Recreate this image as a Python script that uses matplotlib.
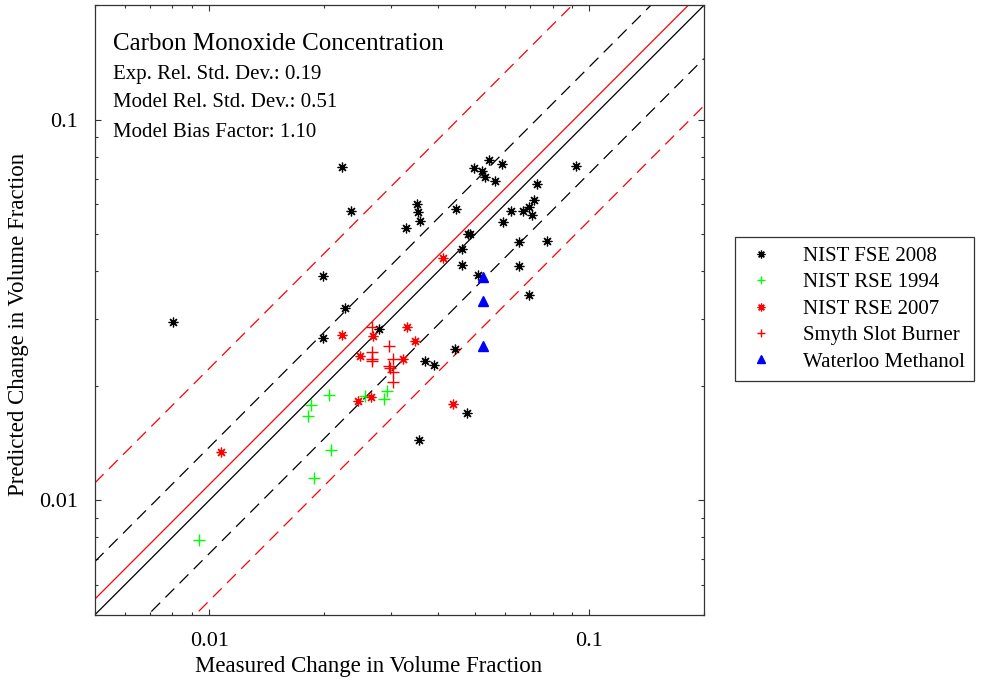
"""
Carbon monoxide concentration: predicted vs measured scatter
"""
import numpy as np
import matplotlib.pyplot as plt
from matplotlib.ticker import FixedLocator, FixedFormatter, NullFormatter, LogLocator

plt.rcParams["font.family"] = ["Liberation Serif", "DejaVu Serif"]

# Statistics shown in the corner
exp_sigma = 0.19
model_sigma = 0.51
bias = 1.10

# NIST FSE 2008 (black asterisks)
fse08_x = [0.00804, 0.02234, 0.02355, 0.01995, 0.0227, 0.01995, 0.0280, 0.03285,
           0.0352, 0.0355, 0.0359, 0.0445, 0.0498, 0.0521, 0.0533, 0.0543, 0.0589,
           0.0565, 0.0920, 0.0730, 0.0716, 0.0695, 0.0671, 0.0623, 0.0708, 0.0594,
           0.0480, 0.0484, 0.0463, 0.0462, 0.0509, 0.0652, 0.0772, 0.0653, 0.0692,
           0.0370, 0.0391, 0.0442, 0.0478, 0.0357]
fse08_y = [0.0294, 0.0753, 0.0577, 0.0389, 0.0320, 0.0268, 0.0282, 0.0519,
           0.0601, 0.0574, 0.0543, 0.0582, 0.0746, 0.0736, 0.0709, 0.0785, 0.0766,
           0.0691, 0.0758, 0.0680, 0.0617, 0.0590, 0.0576, 0.0577, 0.0562, 0.0539,
           0.0502, 0.0500, 0.0457, 0.0416, 0.0392, 0.0478, 0.0480, 0.0414, 0.0346,
           0.0232, 0.0227, 0.0250, 0.0170, 0.0144]

# NIST RSE 1994 (green plus)
rse94_x = [0.0207, 0.01848, 0.01814, 0.0257, 0.0294, 0.0288, 0.02085, 0.01882, 0.0094]
rse94_y = [0.0189, 0.0178, 0.0167, 0.0188, 0.0194, 0.0185, 0.01355, 0.01147, 0.00789]

# NIST RSE 2007 (red asterisks)
rse07_x = [0.0223, 0.0331, 0.0347, 0.0270, 0.0249, 0.0324, 0.0247, 0.0266, 0.0437,
           0.01075, 0.0413]
rse07_y = [0.0272, 0.0286, 0.0263, 0.0271, 0.0240, 0.0236, 0.0183, 0.0187, 0.0179,
           0.0134, 0.0435]

# Smyth slot burner (red plus)
smyth_x = [0.0268, 0.0268, 0.0268, 0.0268, 0.0298, 0.0305, 0.0297, 0.0299, 0.0305, 0.0305]
smyth_y = [0.0285, 0.0245, 0.0235, 0.0232, 0.0255, 0.0236, 0.0226, 0.0223, 0.0217, 0.0205]

# Waterloo methanol (blue triangles)
waterloo_x = [0.0524, 0.0524, 0.0524]
waterloo_y = [0.0386, 0.0334, 0.0255]

lims = [0.005, 0.2]

fig = plt.figure(figsize=(9.92, 6.81), dpi=100)
ax = fig.add_axes([0.0955, 0.097, 0.614, 0.895])

xx = np.array(lims)
ax.plot(xx, xx, color="black", lw=0.9)
ax.plot(xx, xx * (1 + 2 * exp_sigma), color="black", lw=0.9, dashes=(10, 6))
ax.plot(xx, xx / (1 + 2 * exp_sigma), color="black", lw=0.9, dashes=(10, 6))
ax.plot(xx, xx * bias, color="red", lw=0.9)
ax.plot(xx, xx * bias * (1 + 2 * model_sigma), color="red", lw=0.9, dashes=(10, 6))
ax.plot(xx, xx * bias / (1 + 2 * model_sigma), color="red", lw=0.9, dashes=(10, 6))

ast = (8, 2, 0)
ax.plot(fse08_x, fse08_y, ls="none", marker=ast, ms=7, mew=0.9, color="black",
        label="NIST FSE 2008")
ax.plot(rse94_x, rse94_y, ls="none", marker="+", ms=8, mew=1.0, color="#00ff00",
        label="NIST RSE 1994")
ax.plot(rse07_x, rse07_y, ls="none", marker=ast, ms=7, mew=0.9, color="red",
        label="NIST RSE 2007")
ax.plot(smyth_x, smyth_y, ls="none", marker="+", ms=8, mew=1.0, color="red",
        label="Smyth Slot Burner")
ax.plot(waterloo_x, waterloo_y, ls="none", marker="^", ms=7, color="blue",
        label="Waterloo Methanol")

ax.set_xscale("log")
ax.set_yscale("log")
ax.set_xlim(lims)
ax.set_ylim(lims)

for axis in (ax.xaxis, ax.yaxis):
    axis.set_major_locator(FixedLocator([0.01, 0.1]))
    axis.set_major_formatter(FixedFormatter(["0.01", "0.1"]))
    axis.set_minor_locator(LogLocator(base=10, subs=np.arange(2, 10)))
    axis.set_minor_formatter(NullFormatter())
ax.tick_params(which="both", direction="in", top=True, right=True, labelsize=16,
               color="#333333")
ax.tick_params(which="major", length=4.5, width=0.8, pad=12)
ax.tick_params(which="minor", length=2.5, width=0.8)
for s in ax.spines.values():
    s.set_linewidth(0.9)
    s.set_color("#333333")

fig.text(0.372, 0.021, "Measured Change in Volume Fraction", fontsize=16.5,
         ha="center", va="center")
fig.text(0.019, 0.523, "Predicted Change in Volume Fraction", fontsize=16.5,
         ha="center", va="center", rotation=90)

ax.text(0.03, 0.937, "Carbon Monoxide Concentration", transform=ax.transAxes,
        fontsize=18, va="center")
ax.text(0.03, 0.8875, "Exp. Rel. Std. Dev.: %.2f" % exp_sigma, transform=ax.transAxes,
        fontsize=15, va="center")
ax.text(0.03, 0.840, "Model Rel. Std. Dev.: %.2f" % model_sigma, transform=ax.transAxes,
        fontsize=15, va="center")
ax.text(0.03, 0.791, "Model Bias Factor: %.2f" % bias, transform=ax.transAxes,
        fontsize=15, va="center")

leg = fig.legend(handles=ax.get_lines()[6:], loc="upper left",
                 bbox_to_anchor=(0.741, 0.652), fontsize=15, fancybox=False,
                 edgecolor="#333333", framealpha=1, borderaxespad=0,
                 handlelength=1.6, handletextpad=1.2, borderpad=0.45,
                 labelspacing=0.33, markerscale=0.8)
leg.get_frame().set_linewidth(0.9)

fig.savefig("out.png", dpi=100)
